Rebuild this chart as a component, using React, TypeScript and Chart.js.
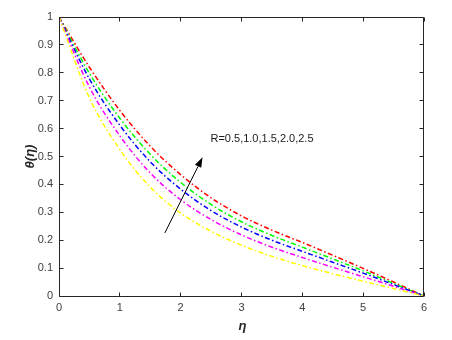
import React, { useEffect, useRef } from "react";
import { Chart, registerables } from "chart.js";

Chart.register(...registerables);

// η grid
const ETA = [0, 0.5, 1, 1.5, 2, 2.5, 3, 3.5, 4, 4.5, 5, 5.5, 6];

// θ(η) for R = 0.5, 1.0, 1.5, 2.0, 2.5
const THETA_R05 = [1, 0.71, 0.525, 0.39, 0.297, 0.232, 0.182, 0.142, 0.109, 0.08, 0.053, 0.027, 0];
const THETA_R10 = [1, 0.749, 0.574, 0.441, 0.345, 0.274, 0.219, 0.175, 0.138, 0.103, 0.069, 0.035, 0];
const THETA_R15 = [1, 0.778, 0.612, 0.481, 0.383, 0.306, 0.247, 0.2, 0.16, 0.121, 0.082, 0.041, 0];
const THETA_R20 = [1, 0.798, 0.637, 0.508, 0.407, 0.328, 0.266, 0.217, 0.175, 0.133, 0.09, 0.045, 0];
const THETA_R25 = [1, 0.82, 0.665, 0.537, 0.435, 0.352, 0.287, 0.236, 0.192, 0.146, 0.099, 0.05, 0];

const SERIES = [
  { label: "R=0.5", data: THETA_R05, color: "#FFFF00" },
  { label: "R=1.0", data: THETA_R10, color: "#FF00FF" },
  { label: "R=1.5", data: THETA_R15, color: "#0000FF" },
  { label: "R=2.0", data: THETA_R20, color: "#00FF00" },
  { label: "R=2.5", data: THETA_R25, color: "#FF0000" },
];

const X_TICKS = [0, 1, 2, 3, 4, 5, 6];
const Y_TICKS = [0, 0.1, 0.2, 0.3, 0.4, 0.5, 0.6, 0.7, 0.8, 0.9, 1];

const ANNOT_TEXT = "R=0.5,1.0,1.5,2.0,2.5";
const ANNOT_POS = [2.49, 0.563];
const ARROW_FROM = [1.74, 0.226];
const ARROW_TO = [2.36, 0.497];

const X_TITLE = "η";
const Y_TITLE = "θ(η)";

const AXIS_COLOR = "#262626";
const FONT = "Liberation Sans, Arial, sans-serif";

const framePlugin = {
  id: "frame",
  afterDraw(chart: any) {
    const { ctx, chartArea: a, scales } = chart;
    const xs = scales.x;
    const ys = scales.y;
    const L = Math.floor(a.left) + 0.5;
    const R = Math.floor(a.right) - 0.5;
    const T = Math.floor(a.top) + 0.5;
    const B = Math.floor(a.bottom) + 0.5;
    ctx.save();
    ctx.strokeStyle = AXIS_COLOR;
    ctx.lineWidth = 1;
    ctx.beginPath();
    ctx.rect(L, T, R - L, B - T);
    ctx.stroke();
    const tl = 4;
    ctx.beginPath();
    X_TICKS.forEach((v) => {
      const px = Math.floor(xs.getPixelForValue(v)) + 0.5;
      ctx.moveTo(px, B);
      ctx.lineTo(px, B - tl);
      ctx.moveTo(px, T);
      ctx.lineTo(px, T + tl);
    });
    Y_TICKS.forEach((v) => {
      const py = Math.floor(ys.getPixelForValue(v)) + 0.5;
      ctx.moveTo(L, py);
      ctx.lineTo(L + tl, py);
      ctx.moveTo(R, py);
      ctx.lineTo(R - tl, py);
    });
    ctx.stroke();

    // titles
    ctx.fillStyle = AXIS_COLOR;
    ctx.font = `italic bold 13px ${FONT}`;
    ctx.textAlign = "center";
    ctx.textBaseline = "middle";
    ctx.fillText(X_TITLE, (a.left + a.right) / 2 + 1, 326);
    ctx.save();
    ctx.translate(30, (a.top + a.bottom) / 2);
    ctx.rotate(-Math.PI / 2);
    ctx.fillText(Y_TITLE, 0, 0);
    ctx.restore();

    // annotation arrow
    const x0 = xs.getPixelForValue(ARROW_FROM[0]);
    const y0 = ys.getPixelForValue(ARROW_FROM[1]);
    const x1 = xs.getPixelForValue(ARROW_TO[0]);
    const y1 = ys.getPixelForValue(ARROW_TO[1]);
    const ang = Math.atan2(y1 - y0, x1 - x0);
    const hl = 10;
    const hw = 3.5;
    const bx = x1 - hl * Math.cos(ang);
    const by = y1 - hl * Math.sin(ang);
    ctx.strokeStyle = "#000";
    ctx.fillStyle = "#000";
    ctx.lineWidth = 1;
    ctx.beginPath();
    ctx.moveTo(x0, y0);
    ctx.lineTo(bx, by);
    ctx.stroke();
    ctx.beginPath();
    ctx.moveTo(x1, y1);
    ctx.lineTo(bx + hw * Math.sin(ang), by - hw * Math.cos(ang));
    ctx.lineTo(bx - hw * Math.sin(ang), by + hw * Math.cos(ang));
    ctx.closePath();
    ctx.fill();

    ctx.font = `11px ${FONT}`;
    ctx.fillStyle = "#1a1a1a";
    ctx.textAlign = "left";
    ctx.textBaseline = "middle";
    ctx.fillText(ANNOT_TEXT, xs.getPixelForValue(ANNOT_POS[0]), ys.getPixelForValue(ANNOT_POS[1]));
    ctx.restore();
  },
};

export default function App() {
  const ref = useRef<HTMLCanvasElement>(null);
  useEffect(() => {
    document.body.style.margin = "0";
    const canvas = ref.current!;
    const chart = new Chart(canvas, {
      type: "line",
      data: {
        datasets: SERIES.map((s) => ({
          label: s.label,
          data: ETA.map((e, i) => ({ x: e, y: s.data[i] })),
          borderColor: s.color,
          backgroundColor: s.color,
          borderWidth: 1.5,
          borderDash: [5, 2.5, 1.5, 2.5],
          pointRadius: 0,
          cubicInterpolationMode: "monotone" as const,
          fill: false,
        })),
      },
      options: {
        animation: false,
        responsive: false,
        maintainAspectRatio: false,
        layout: { padding: { top: 17, right: 28, left: 0, bottom: 0 } },
        plugins: { legend: { display: false }, tooltip: { enabled: false } },
        scales: {
          x: {
            type: "linear",
            min: 0,
            max: 6,
            grid: { display: false, drawTicks: false },
            border: { display: false },
            ticks: {
              stepSize: 1,
              padding: 5,
              color: "#404040",
              font: { family: FONT, size: 11 },
              maxRotation: 0,
            },
            afterFit: (s: any) => {
              s.height = 44;
            },
          },
          y: {
            type: "linear",
            min: 0,
            max: 1,
            grid: { display: false, drawTicks: false },
            border: { display: false },
            ticks: {
              stepSize: 0.1,
              padding: 6,
              color: "#404040",
              font: { family: FONT, size: 11 },
              callback: (v: any) => String(Math.round(Number(v) * 10) / 10),
            },
            afterFit: (s: any) => {
              s.width = 59;
            },
          },
        },
      },
      plugins: [framePlugin],
    });
    return () => chart.destroy();
  }, []);
  return (
    <div style={{ width: 452, height: 340, background: "#fff" }}>
      <canvas ref={ref} width={452} height={340} style={{ display: "block" }} />
    </div>
  );
}
